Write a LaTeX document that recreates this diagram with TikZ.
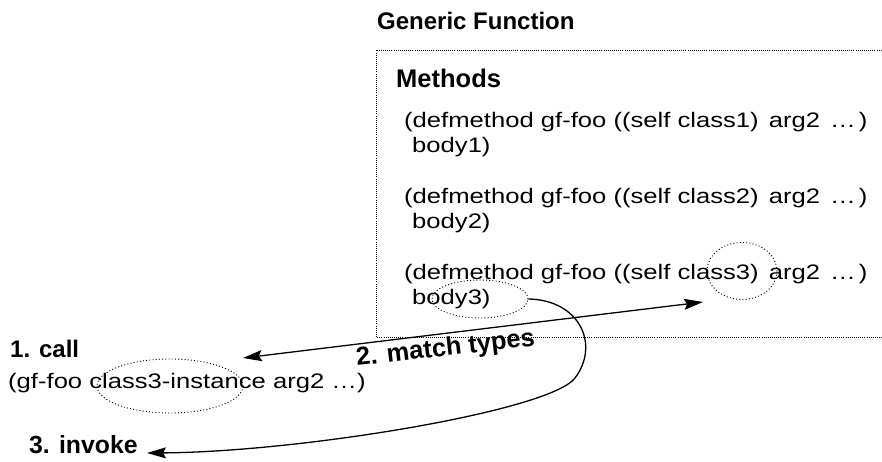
\documentclass[tikz,border=0pt]{standalone}
\usepackage{fontspec}
\setmainfont{Liberation Sans}
\newfontfamily\rgfont[FakeStretch=1.22]{Liberation Sans}
\usetikzlibrary{arrows.meta,shapes.geometric}
\newcommand{\mtail}{)\hspace{3pt} arg2\hspace{3pt} …\hspace{3pt})}
\begin{document}
\begin{tikzpicture}[x=1pt,y=-1pt,
  hd/.style={font=\fontsize{24}{24}\selectfont\bfseries, inner sep=0pt, anchor=base west},
  code/.style={font=\rgfont\fontsize{21}{21}\selectfont, inner sep=0pt, anchor=base west},
  dotbox/.style={draw, line width=0.9pt, dash pattern=on 0.9pt off 1.2pt},
  oval/.style={draw, ellipse, line width=0.9pt, dash pattern=on 1pt off 2.2pt, inner sep=0pt},
  conn/.style={line width=1.3pt},
  tipend/.style={-{Stealth[length=19pt,width=11pt,inset=3pt]}},
  tipboth/.style={{Stealth[length=19pt,width=11pt,inset=3pt]}-{Stealth[length=19pt,width=11pt,inset=3pt]}}
]
\useasboundingbox (0,0) rectangle (882,462);
\fill[white] (0,0) rectangle (882,462);

% generic function box
\node[hd] (gf) at (377,30) {Generic Function};
\draw[dotbox] (890,50) -- (376,50) -- (376,337) -- (890,337);
\node[hd, font=\fontsize{25.5}{25.5}\selectfont\bfseries] (meth) at (396,88) {Methods};

\node[code] (m1a) at (404,128) {(defmethod gf-foo ((self class1\mtail};
\node[code] (m1b) at (412,153) {body1)};
\node[code] (m2a) at (404,204) {(defmethod gf-foo ((self class2\mtail};
\node[code] (m2b) at (412,229) {body2)};
\node[code] (m3a) at (404,279) {(defmethod gf-foo ((self class3\mtail};
\node[code] (m3b) at (412,304) {body3)};

% ellipses
\node[oval, minimum width=70pt, minimum height=57pt] (cls3) at (742,271) {};
\node[oval, minimum width=96pt, minimum height=38pt] (body3) at (480,299) {};

% call
\node[hd] (call) at (10,357) {1. call};
\node[code] (callexpr) at (8,388) {(gf-foo class3-instance arg2 …)};
\node[oval, minimum width=146pt, minimum height=54pt] (inst) at (170,386) {};

\node[hd, font=\fontsize{24.8}{24.8}\selectfont\bfseries] (inv) at (29,453) {3. invoke};

% match types connector
\coordinate (mtL) at (243,358);
\coordinate (mtR) at (703,302);
\draw[conn, tipboth] (mtL) -- (mtR);
\node[hd, rotate=6.5, font=\fontsize{25.5}{25.5}\selectfont\bfseries] (mt) at (357,366) {2. match types};

% invoke connector
\coordinate (ivM) at (575,378);
\coordinate (ivE) at (147,453);
\draw[conn, tipend] (body3.east) .. controls (580,300) and (600,345) .. (ivM)
   .. controls (550,411) and (300,452) .. (ivE);
\end{tikzpicture}
\end{document}
